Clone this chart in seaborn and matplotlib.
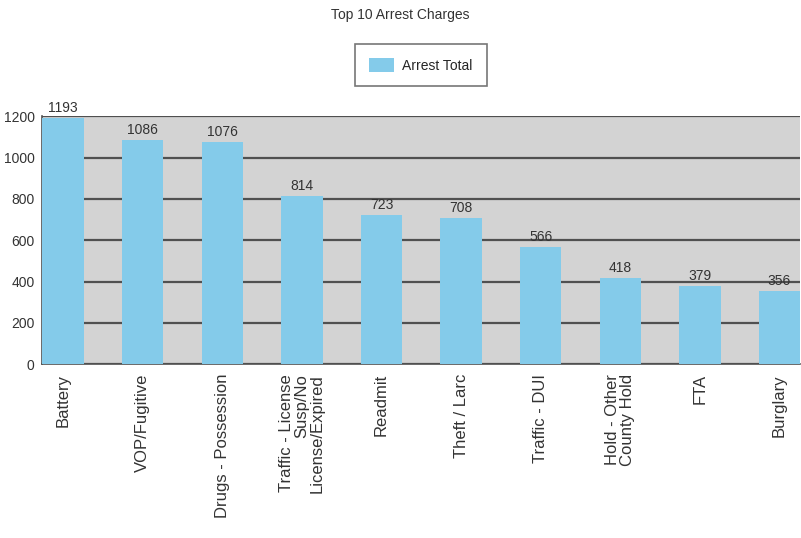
import matplotlib
matplotlib.use("Agg")
import matplotlib.pyplot as plt
import seaborn as sns
import pandas as pd

# data
charges = ["Battery", "VOP/Fugitive", "Drugs - Possession",
           "Traffic - License\nSusp/No\nLicense/Expired", "Readmit",
           "Theft / Larc", "Traffic - DUI", "Hold - Other\nCounty Hold",
           "FTA", "Burglary"]
totals = [1193, 1086, 1076, 814, 723, 708, 566, 418, 379, 356]

df = pd.DataFrame({"Charge": charges, "Arrest Total": totals})

sns.set_style("white")
plt.rcParams['font.family'] = ['Liberation Sans', 'DejaVu Sans']

bar_color = "#84cbea"
fig = plt.figure(figsize=(8.01, 5.38), dpi=100)
ax = fig.add_axes([0.052, 0.323, 0.947, 0.461])

sns.barplot(data=df, x="Charge", y="Arrest Total", color=bar_color,
            width=0.52, saturation=1, ax=ax, label="Arrest Total",
            linewidth=0, zorder=3)

ax.set_facecolor("#d3d3d3")
ax.set_ylim(0, 1200)
ax.set_xlim(-0.27, 9.26)
ax.set_yticks(range(0, 1201, 200))
ax.yaxis.grid(True, color="#505050", linewidth=1.6, zorder=1)
ax.set_axisbelow(True)
ax.set_xlabel("")
ax.set_ylabel("")

for s in ["top", "right"]:
    ax.spines[s].set_visible(False)
for s in ["left", "bottom"]:
    ax.spines[s].set_color("#505050")
    ax.spines[s].set_linewidth(1.2)

ax.tick_params(axis="y", direction="out", length=4, width=1, color="#505050",
               labelsize=10, labelcolor="#333333", pad=1)
ax.tick_params(axis="x", direction="inout", length=6, width=1, color="#505050",
               labelsize=12, labelcolor="#333333", pad=4)
for lbl in ax.get_xticklabels():
    lbl.set_rotation(90)
    lbl.set_ha("center")
    lbl.set_va("top")
    lbl.set_multialignment("right")
    lbl.set_linespacing(1.0)

for i, v in enumerate(totals):
    ax.text(i, v + 14, str(v), ha="center", va="bottom", fontsize=10,
            color="#333333", zorder=4)

fig.text(0.5, 0.972, "Top 10 Arrest Charges", ha="center", va="center",
         fontsize=10, color="#333333")
leg = ax.legend(loc="center", bbox_to_anchor=(0.5, 1.206), frameon=True,
                fancybox=False, edgecolor="#555555", fontsize=10,
                handlelength=1.8, handleheight=1.2, borderpad=1.0,
                handletextpad=0.6)
leg.get_frame().set_linewidth(1.2)

fig.savefig("out.png", dpi=100)
